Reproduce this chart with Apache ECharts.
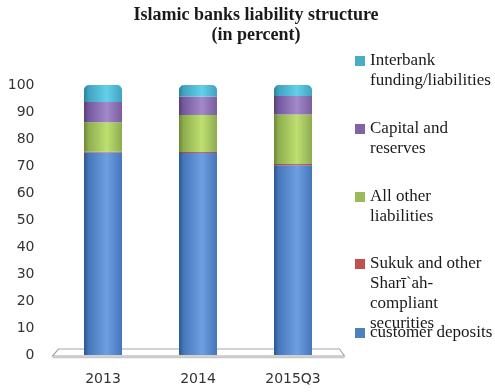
<!DOCTYPE html>
<html>
<head>
<meta charset="utf-8">
<script src="https://cdn.jsdelivr.net/npm/echarts@6/dist/echarts.min.js"></script>
<style>html,body{margin:0;padding:0;background:#fff;}#c{width:495px;height:392px;}</style>
</head>
<body>
<div id="c"></div>
<script>
var categories = ['2013', '2014', '2015Q3'];
var customerDeposits = [75.0, 74.8, 70.3];
var sukuk = [0.3, 0.4, 0.4];
var otherLiabilities = [10.9, 13.7, 18.4];
var capitalReserves = [7.5, 6.8, 6.8];
var interbank = [6.3, 4.3, 4.1];
var yTicks = [0, 10, 20, 30, 40, 50, 60, 70, 80, 90, 100];

var names = {
  dep: 'customer deposits',
  suk: 'Sukuk and other Sharī`ah-compliant securities',
  oth: 'All other liabilities',
  cap: 'Capital and reserves',
  int: 'Interbank funding/liabilities'
};
var legendLines = {};
legendLines[names.int] = ['Interbank', 'funding/liabilities'];
legendLines[names.cap] = ['Capital and', 'reserves'];
legendLines[names.oth] = ['All other', 'liabilities'];
legendLines[names.suk] = ['Sukuk and other', 'Sharī`ah-', 'compliant', 'securities'];
legendLines[names.dep] = ['customer deposits'];

function grad(c0, c1, c2, c3) {
  return new echarts.graphic.LinearGradient(0, 0, 1, 0, [
    {offset: 0, color: c0}, {offset: 0.12, color: c1},
    {offset: 0.6, color: c2}, {offset: 1, color: c3}
  ]);
}
var colors = {};
colors[names.dep] = grad('#2c5590', '#4677ba', '#6d9fe2', '#4576bb');
colors[names.suk] = grad('#8e3533', '#b04a47', '#d26864', '#b04a47');
colors[names.oth] = grad('#6b8636', '#8fae4f', '#bde070', '#8eab51');
colors[names.cap] = grad('#563f73', '#7559a0', '#a289ca', '#7a5e9e');
colors[names.int] = grad('#2b8099', '#41a3bf', '#64cfea', '#3fa3c0');
var flat = {};
flat[names.dep] = '#4f81bd'; flat[names.suk] = '#c0504d'; flat[names.oth] = '#9bbb59';
flat[names.cap] = '#8064a2'; flat[names.int] = '#4bacc6';

var order = [names.dep, names.suk, names.oth, names.cap, names.int];
var dataMap = {};
dataMap[names.dep] = customerDeposits; dataMap[names.suk] = sukuk;
dataMap[names.oth] = otherLiabilities; dataMap[names.cap] = capitalReserves;
dataMap[names.int] = interbank;

var series = order.map(function (n, i) {
  return {
    name: n, type: 'bar', stack: 'total', barWidth: 38, z: 3,
    data: dataMap[n],
    itemStyle: {color: colors[n], borderRadius: i === 4 ? [5, 5, 0, 0] : 0},
    emphasis: {disabled: true}
  };
});

var legendOrder = [names.int, names.cap, names.oth, names.suk, names.dep];
var legendIconCenters = [61, 129, 197, 264, 333];
var LH = 20;
var legends = legendOrder.map(function (n, i) {
  var lines = legendLines[n].length;
  var totalLines = 2 * lines - 1;
  return {
    data: [{name: n, itemStyle: {color: flat[n]}}],
    orient: 'vertical', left: 355, top: legendIconCenters[i] - totalLines * LH / 2,
    padding: 0, itemWidth: 10, itemHeight: 10, icon: 'rect',
    selectedMode: false,
    formatter: function (name) {
      var ls = legendLines[name];
      var pad = [];
      for (var k = 0; k < ls.length - 1; k++) pad.push(' ');
      return pad.concat(ls).join('\n');
    },
    textStyle: {
      fontFamily: 'Liberation Serif', fontSize: 17, color: '#1a1a1a', lineHeight: LH
    }
  };
});

var chart = echarts.init(document.getElementById('c'), null, {renderer: 'canvas'});
chart.setOption({
  animation: false,
  backgroundColor: '#ffffff',
  title: {
    text: 'Islamic banks liability structure\n(in percent)',
    left: 251, top: 0, textAlign: 'center',
    textStyle: {fontFamily: 'Liberation Serif', fontWeight: 'bold', fontSize: 18, lineHeight: 20, color: '#1a1a1a'}
  },
  legend: legends,
  grid: {left: 55.5, right: 154.5, top: 85, bottom: 37},
  xAxis: {
    type: 'category', data: categories,
    axisLine: {show: false}, axisTick: {show: false},
    axisLabel: {fontFamily: 'DejaVu Sans', fontSize: 14, color: '#333333', margin: 17}
  },
  yAxis: {
    type: 'value', min: 0, max: 100, interval: 10,
    splitLine: {show: false}, axisLine: {show: false}, axisTick: {show: false},
    axisLabel: {fontFamily: 'DejaVu Sans', fontSize: 14, color: '#333333', margin: 21,
      formatter: function (v) { return yTicks.indexOf(v) >= 0 ? String(v) : ''; }}
  },
  series: series
});

// floor of the 3D plot area, derived from the axes
var p0 = chart.convertToPixel({xAxisIndex: 0, yAxisIndex: 0}, [0, 0]);
var rect = chart.getModel().getComponent('grid').coordinateSystem.getRect();
var L = rect.x, R = rect.x + rect.width, Y = p0[1];
chart.setOption({
  graphic: [{
    type: 'polygon', z: 0,
    shape: {points: [[L + 3, Y - 6], [R - 1, Y - 6], [R + 4, Y + 1], [L - 3, Y + 1]]},
    style: {fill: '#ffffff', stroke: '#a6a6a6', lineWidth: 1.2}
  }, {
    type: 'line', z: 0,
    shape: {x1: L - 3, y1: Y + 2.5, x2: R + 4, y2: Y + 2.5},
    style: {stroke: '#c8c8c8', lineWidth: 1.5}
  }]
});
</script>
</body>
</html>
